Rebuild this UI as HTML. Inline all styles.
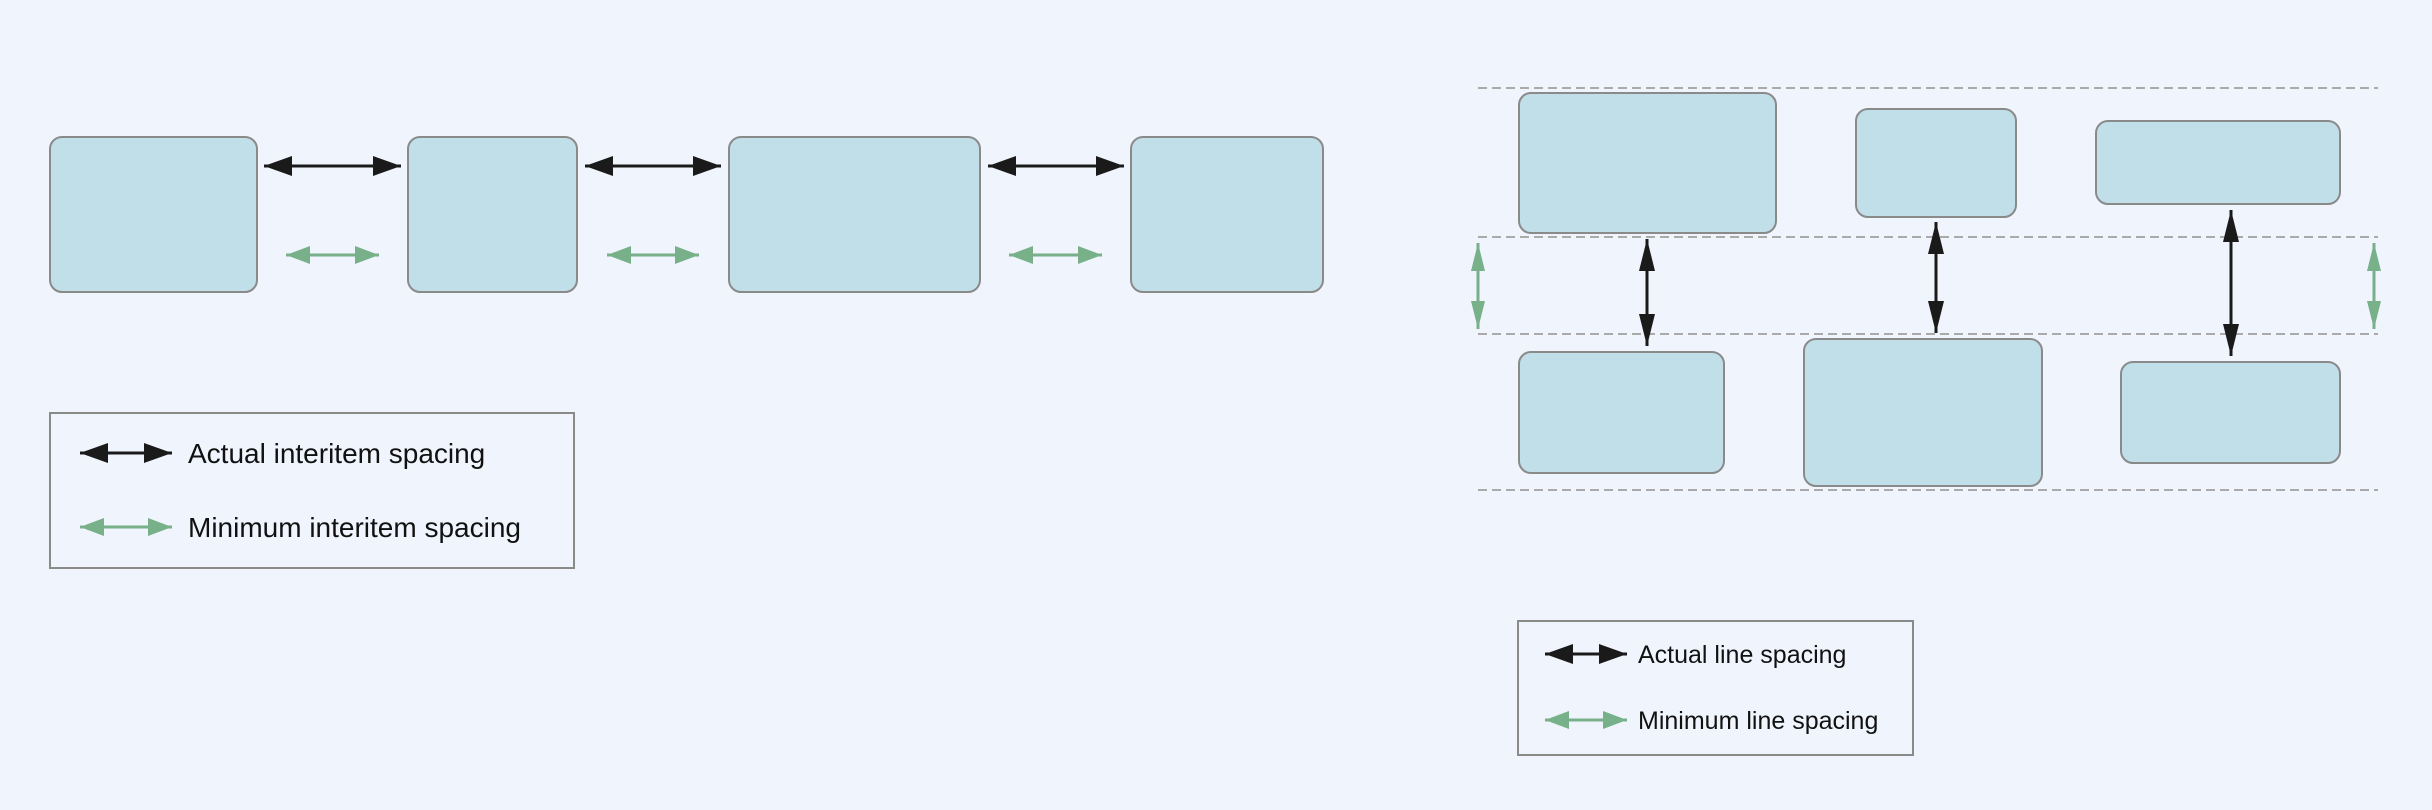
<!DOCTYPE html>
<html><head><meta charset="utf-8"><style>
html,body{margin:0;padding:0;background:#f0f5fd;}
svg{display:block;}
text{font-family:"Liberation Sans",sans-serif;fill:#111;}
</style></head><body>
<svg width="2432" height="810" viewBox="0 0 2432 810" xmlns="http://www.w3.org/2000/svg">
<defs>
<marker id="bk" viewBox="0 0 10 10" refX="10" refY="5" markerWidth="28" markerHeight="20" markerUnits="userSpaceOnUse" orient="auto-start-reverse" preserveAspectRatio="none"><path d="M0,0 L10,5 L0,10 Z" fill="#1a1a1a"/></marker>
<marker id="bkv" viewBox="0 0 10 10" refX="10" refY="5" markerWidth="32" markerHeight="16" markerUnits="userSpaceOnUse" orient="auto-start-reverse" preserveAspectRatio="none"><path d="M0,0 L10,5 L0,10 Z" fill="#1a1a1a"/></marker>
<marker id="gr" viewBox="0 0 10 10" refX="10" refY="5" markerWidth="24" markerHeight="18" markerUnits="userSpaceOnUse" orient="auto-start-reverse" preserveAspectRatio="none"><path d="M0,0 L10,5 L0,10 Z" fill="#78b08a"/></marker>
<marker id="grv" viewBox="0 0 10 10" refX="10" refY="5" markerWidth="28" markerHeight="14" markerUnits="userSpaceOnUse" orient="auto-start-reverse" preserveAspectRatio="none"><path d="M0,0 L10,5 L0,10 Z" fill="#78b08a"/></marker>
</defs>
<rect width="2432" height="810" fill="#f0f5fd"/>
<g fill="#c1dfe9" stroke="#8a8a8a" stroke-width="2">
<rect x="50" y="137" width="207" height="155" rx="12"/>
<rect x="408" y="137" width="169" height="155" rx="12"/>
<rect x="729" y="137" width="251" height="155" rx="12"/>
<rect x="1131" y="137" width="192" height="155" rx="12"/>
<rect x="1519" y="93" width="257" height="140" rx="12"/>
<rect x="1856" y="109" width="160" height="108" rx="12"/>
<rect x="2096" y="121" width="244" height="83" rx="12"/>
<rect x="1519" y="352" width="205" height="121" rx="12"/>
<rect x="1804" y="339" width="238" height="147" rx="12"/>
<rect x="2121" y="362" width="219" height="101" rx="12"/>
</g>
<g stroke="#aaa" stroke-width="2" stroke-dasharray="9,5">
<line x1="1478" y1="88" x2="2378" y2="88"/>
<line x1="1478" y1="237" x2="2378" y2="237"/>
<line x1="1478" y1="334" x2="2378" y2="334"/>
<line x1="1478" y1="490" x2="2378" y2="490"/>
</g>
<g stroke="#1a1a1a" stroke-width="3" marker-start="url(#bk)" marker-end="url(#bk)">
<line x1="264" y1="166" x2="401" y2="166"/>
<line x1="585" y1="166" x2="721" y2="166"/>
<line x1="988" y1="166" x2="1124" y2="166"/>
<line x1="80" y1="453" x2="172" y2="453"/>
<line x1="1545" y1="654" x2="1627" y2="654"/>
</g>
<g stroke="#1a1a1a" stroke-width="3" marker-start="url(#bkv)" marker-end="url(#bkv)">
<line x1="1647" y1="239" x2="1647" y2="346"/>
<line x1="1936" y1="222" x2="1936" y2="333"/>
<line x1="2231" y1="210" x2="2231" y2="356"/>
</g>
<g stroke="#78b08a" stroke-width="3" marker-start="url(#gr)" marker-end="url(#gr)">
<line x1="286" y1="255" x2="379" y2="255"/>
<line x1="607" y1="255" x2="699" y2="255"/>
<line x1="1009" y1="255" x2="1102" y2="255"/>
<line x1="80" y1="527" x2="172" y2="527"/>
<line x1="1545" y1="720" x2="1627" y2="720"/>
</g>
<g stroke="#78b08a" stroke-width="3" marker-start="url(#grv)" marker-end="url(#grv)">
<line x1="1478" y1="243" x2="1478" y2="329"/>
<line x1="2374" y1="243" x2="2374" y2="329"/>
</g>
<rect x="50" y="413" width="524" height="155" fill="none" stroke="#8a8a8a" stroke-width="2"/>
<rect x="1518" y="621" width="395" height="134" fill="none" stroke="#8a8a8a" stroke-width="2"/>
<text x="188" y="463" font-size="28">Actual interitem spacing</text>
<text x="188" y="537" font-size="28">Minimum interitem spacing</text>
<text x="1638" y="663" font-size="25">Actual line spacing</text>
<text x="1638" y="729" font-size="25">Minimum line spacing</text>
</svg>
</body></html>
